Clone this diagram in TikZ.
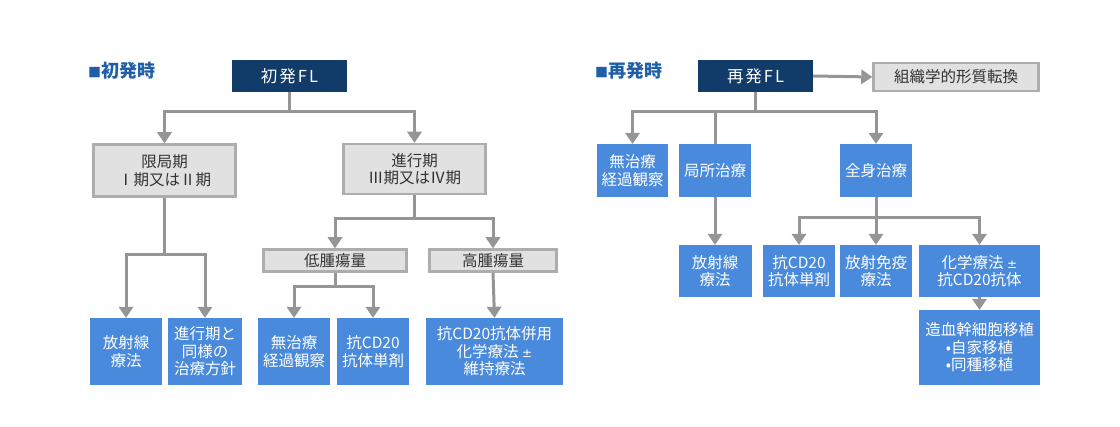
\documentclass[tikz,border=0pt]{standalone}
\usepackage{fontspec}
\newfontfamily\cjk{Noto Sans CJK JP}
\newfontfamily\cjkls[LetterSpace=12]{Noto Sans CJK JP}
\newfontfamily\dvs{DejaVu Sans}
\newcommand{\pmsym}{{\dvs\fontsize{12}{12}\selectfont ±}}
\usetikzlibrary{arrows.meta}
\definecolor{navy}{HTML}{113B69}
\definecolor{bblue}{HTML}{4A8ADC}
\definecolor{gfill}{HTML}{E1E1E1}
\definecolor{gline}{HTML}{ADADAD}
\definecolor{conncol}{HTML}{959595}
\definecolor{titleblue}{HTML}{1F5EA8}
\definecolor{gtext}{HTML}{333333}
\tikzset{
  base/.style={inner sep=0pt, align=center, font=\cjk\fontsize{15.5}{17.5}\selectfont},
  navybox/.style={base, fill=navy, text=white, font=\cjkls\fontsize{16.5}{18}\selectfont},
  graybox/.style={base, fill=gfill, draw=gline, line width=2.5pt, text=gtext},
  bluebox/.style={base, fill=bblue, text=white},
  conn/.style={draw=conncol, line width=3pt},
  arr/.style={conn, -{Triangle[width=15pt,length=11pt,line width=0pt]}},
  ttl/.style={anchor=west, inner sep=0pt, text=titleblue, font=\cjk\bfseries\fontsize{18}{20}\selectfont}
}
\begin{document}
\begin{tikzpicture}[x=1pt,y=-1pt]
\useasboundingbox (0,0) rectangle (1120,427);
% titles
\node[ttl] (t1) at (88,71) {{\fontsize{13}{13}\selectfont■}初発時};
\node[ttl] (t2) at (595,71) {{\fontsize{13}{13}\selectfont■}再発時};
% left tree
\node[navybox, minimum width=115pt, minimum height=32pt] (fl1) at (289.5,76) {初発FL};
\node[graybox, minimum width=142pt, minimum height=52pt] (gen) at (164.5,170.5) {限局期\\Ⅰ期又はⅡ期};
\node[graybox, minimum width=142pt, minimum height=50pt] (adv) at (414.5,169) {進行期\\Ⅲ期又はⅣ期};
\node[graybox, minimum width=143pt, minimum height=22pt] (low) at (335,260.5) {低腫瘍量};
\node[graybox, minimum width=127pt, minimum height=22pt] (high) at (493,260.5) {高腫瘍量};
\node[bluebox, minimum width=72pt, minimum height=67pt] (rt1) at (126,351.5) {放射線\\療法};
\node[bluebox, minimum width=74pt, minimum height=67pt] (same) at (205,351.5) {進行期と\\同様の\\治療方針};
\node[bluebox, minimum width=72pt, minimum height=67pt] (obs1) at (294,351.5) {無治療\\経過観察};
\node[bluebox, minimum width=72pt, minimum height=67pt] (cd1) at (373,351.5) {抗CD20\\抗体単剤};
\node[bluebox, minimum width=137pt, minimum height=67pt] (chemo1) at (494.5,351.5) {抗CD20抗体併用\\化学療法 \pmsym\\維持療法};
% left connectors
\coordinate (j1) at (fl1.south |- 0,112);
\draw[conn] (fl1.south) -- (j1);
\draw[arr] (j1) -| (gen.north);
\draw[arr] (j1) -| (adv.north);
\coordinate (j2) at (gen.south |- 0,255);
\draw[conn] (gen.south) -- (j2);
\draw[arr] (j2) -| (rt1.north);
\draw[arr] (j2) -| (same.north);
\coordinate (j3) at (adv.south |- 0,219);
\draw[conn] (adv.south) -- (j3);
\draw[arr] (j3) -| (low.north);
\draw[arr] (j3) -| (high.north);
\coordinate (j4) at (low.south |- 0,287);
\draw[conn] (low.south) -- (j4);
\draw[arr] (j4) -| (obs1.north);
\draw[arr] (j4) -| (cd1.north);
\draw[arr] (high.south) -- (chemo1.north);
% right tree
\node[navybox, minimum width=115pt, minimum height=32pt] (fl2) at (755.5,76) {再発FL};
\node[graybox, minimum width=165pt, minimum height=28pt] (trans) at (956,77) {組織学的形質転換};
\node[bluebox, minimum width=71pt, minimum height=53pt] (obs2) at (632.5,170.5) {無治療\\経過観察};
\node[bluebox, minimum width=72pt, minimum height=53pt] (local) at (715,170.5) {局所治療};
\node[bluebox, minimum width=72pt, minimum height=53pt] (sys) at (876,170.5) {全身治療};
\node[bluebox, minimum width=73pt, minimum height=52pt] (rt2) at (715,271) {放射線\\療法};
\node[bluebox, minimum width=72pt, minimum height=52pt] (cd2) at (799,271) {抗CD20\\抗体単剤};
\node[bluebox, minimum width=72pt, minimum height=52pt] (rit) at (876,271) {放射免疫\\療法};
\node[bluebox, minimum width=121pt, minimum height=52pt] (chemo2) at (979.5,271) {化学療法 \pmsym\\抗CD20抗体};
\node[bluebox, minimum width=121pt, minimum height=75pt] (sct) at (979.5,347.5) {造血幹細胞移植\\•自家移植\\•同種移植};
% right connectors
\draw[arr] (fl2.east) -- (trans.west);
\coordinate (k1) at (fl2.south |- 0,112);
\draw[conn] (fl2.south) -- (k1);
\draw[arr] (k1) -| (obs2.north);
\draw[conn] (k1) -| (local.north);
\draw[arr] (k1) -| (sys.north);
\draw[arr] (local.south) -- (rt2.north);
\coordinate (k2) at (sys.south |- 0,218);
\draw[conn] (sys.south) -- (k2);
\draw[arr] (k2) -| (cd2.north);
\draw[arr] (k2) -- (rit.north);
\draw[arr] (k2) -| (chemo2.north);
\draw[arr] (chemo2.south) -- (sct.north);
\end{tikzpicture}
\end{document}
